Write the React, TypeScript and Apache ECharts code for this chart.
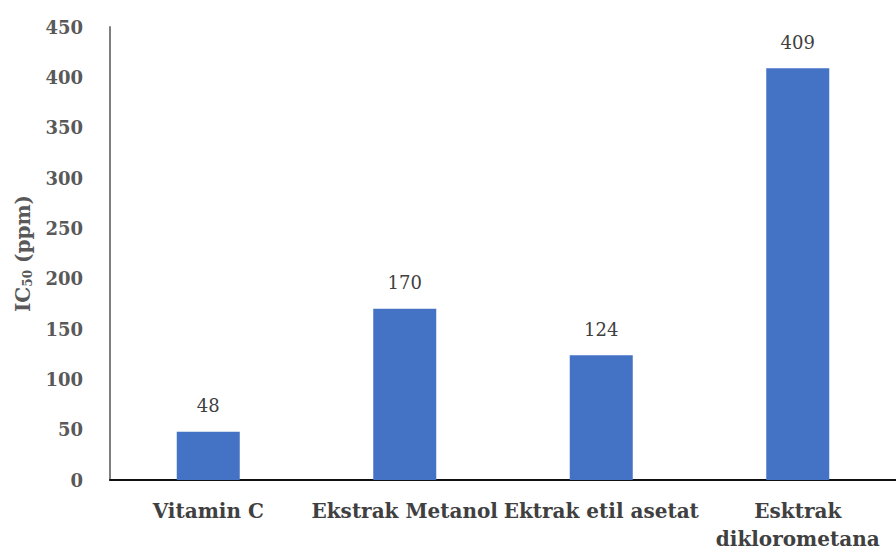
import React, { useEffect, useRef } from "react";
import * as echarts from "echarts";

// IC50 values per sample (ppm)
const categories = [
  "Vitamin C",
  "Ekstrak Metanol",
  "Ektrak etil asetat",
  "Esktrak\ndiklorometana",
];
const ic50Values = [48, 170, 124, 409];
const yTicks = { min: 0, max: 450, interval: 50 };

const SERIF = "'DejaVu Serif', 'Liberation Serif', serif";

export default function App() {
  const ref = useRef<HTMLDivElement>(null);

  useEffect(() => {
    if (!ref.current) return;
    const chart = echarts.init(ref.current, undefined, { renderer: "svg" });
    chart.setOption({
      animation: false,
      backgroundColor: "#ffffff",
      grid: { left: 110, top: 27, bottom: 70, width: 795 },
      xAxis: {
        type: "category",
        data: categories,
        axisLine: { lineStyle: { color: "#111111", width: 2 } },
        axisTick: { show: false },
        axisLabel: {
          margin: 17,
          fontFamily: SERIF,
          fontWeight: "bold",
          fontSize: 20,
          color: "#404040",
          interval: 0,
          lineHeight: 28,
        },
      },
      yAxis: {
        type: "value",
        min: yTicks.min,
        max: yTicks.max,
        interval: yTicks.interval,
        name: "{main|IC}{sub|50}{main| (ppm)}",
        nameLocation: "middle",
        nameGap: 76,
        nameRotate: 90,
        nameTextStyle: {
          rich: {
            main: {
              fontFamily: SERIF,
              fontWeight: "bold",
              fontSize: 20,
              color: "#595959",
            },
            sub: {
              fontFamily: SERIF,
              fontWeight: "bold",
              fontSize: 12,
              color: "#595959",
              padding: [10, 0, 0, 0],
            },
          },
        },
        splitLine: { show: false },
        axisTick: { show: false },
        axisLine: { show: true, lineStyle: { color: "#7f7f7f", width: 2 } },
        axisLabel: {
          margin: 27,
          fontFamily: SERIF,
          fontWeight: "bold",
          fontSize: 18,
          color: "#595959",
        },
      },
      series: [
        {
          type: "bar",
          data: ic50Values,
          barWidth: 63,
          itemStyle: { color: "#4472C4" },
          label: {
            show: true,
            position: "top",
            distance: 17,
            fontFamily: SERIF,
            fontSize: 18,
            color: "#404040",
          },
        },
      ],
    });
    return () => chart.dispose();
  }, []);

  return (
    <div
      ref={ref}
      style={{ position: "fixed", left: 0, top: 0, width: 896, height: 553 }}
    />
  );
}
